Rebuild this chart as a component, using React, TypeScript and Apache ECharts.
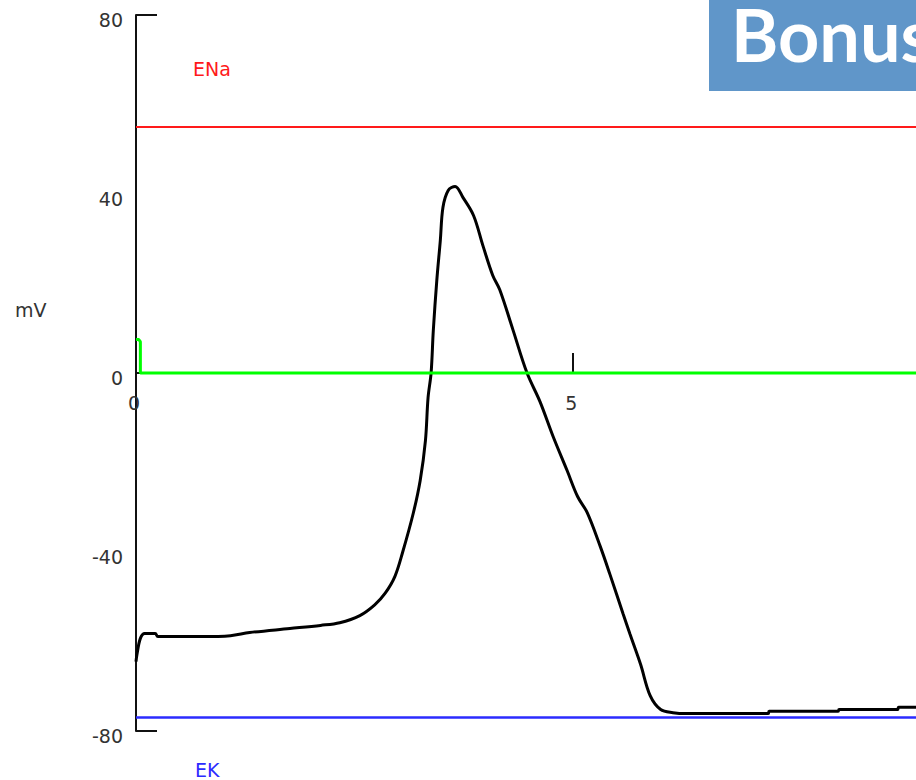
import React, { useEffect, useRef } from "react";
import * as echarts from "echarts";

const X_MAX = 8.92;
const Y_MIN = -80;
const Y_MAX = 80;
const Y_INTERVAL = 40;
const X_INTERVAL = 5;

const E_NA = 55;
const E_K = -77;

// membrane potential trace (time in ms, voltage in mV)
const vmTime = [
  0, 0.01, 0.05, 0.1, 0.22, 0.25, 0.76, 1.08, 1.3, 1.76, 2.11, 2.33, 2.56, 2.73,
  2.85, 2.96, 3.05, 3.17, 3.25, 3.31, 3.34, 3.375, 3.4, 3.44, 3.48, 3.51,
  3.57, 3.65, 3.74, 3.86, 3.97, 4.08, 4.16, 4.31, 4.47, 4.62, 4.77, 4.93, 5.05,
  5.16, 5.31, 5.42, 5.57, 5.65, 5.77, 5.88, 6.0, 6.14, 6.3, 7.23, 7.24, 8.03,
  8.04, 8.71, 8.72, 8.92,
];
const vmValues = [
  -64.5, -63, -59.3, -58.2, -58.2, -58.9, -58.9, -58.7, -58.0, -57.1, -56.4,
  -55.8, -54.2, -51.8, -49.2, -45.5, -40.0, -31.4, -24.0, -15.1, -5.5,
  0.1, 9.5, 20.7, 29.6, 37.0, 40.8, 41.7, 39.2, 35.2, 28.3, 21.8, 18.6, 9.7,
  0.1, -6.4, -14.2, -21.8, -27.6, -31.2, -38.8, -45.0, -53.8, -58.4, -65.1,
  -72.1, -75.2, -75.9, -76.1, -76.1, -75.6, -75.6, -75.2, -75.2, -74.7, -74.7,
];

// stimulus trace
const stimTime = [0, 0.03, 0.05, 0.05, 8.92];
const stimValues = [7.5, 7.5, 7.0, 0, 0];

const yTickValues = [-80, 80];
const xTickValues = [5];
const xLabelValues = [0, 5];

const zip = (a: number[], b: number[]) => a.map((v, i) => [v, b[i]]);

export default function App() {
  const ref = useRef<HTMLDivElement>(null);
  useEffect(() => {
    if (!ref.current) return;
    const chart = echarts.init(ref.current, undefined, { renderer: "svg" });
    const font = "DejaVu Sans";
    const gridTop = 15;
    const gridBottom = 49;
    const plotH = 780 - gridTop - gridBottom;
    const zeroOffset = -plotH * ((0 - Y_MIN) / (Y_MAX - Y_MIN));
    chart.setOption({
      animation: false,
      backgroundColor: "#ffffff",
      grid: { left: 136, top: gridTop, bottom: gridBottom, right: 0 },
      xAxis: {
        type: "value",
        min: 0,
        max: X_MAX,
        interval: X_INTERVAL,
        position: "bottom",
        offset: zeroOffset,
        axisLine: { onZero: false, lineStyle: { color: "#111", width: 2 } },
        axisTick: {
          show: true,
          inside: true,
          length: 20,
          customValues: xTickValues,
          lineStyle: { color: "#111", width: 2 },
        },
        axisLabel: {
          margin: 20,
          fontSize: 19,
          fontFamily: font,
          color: "#333",
          customValues: xLabelValues,
          padding: [0, 4, 0, 0],
        },
        splitLine: { show: false },
      },
      yAxis: {
        type: "value",
        min: Y_MIN,
        max: Y_MAX,
        interval: Y_INTERVAL,
        axisLine: { show: true, onZero: false, lineStyle: { color: "#111", width: 2 } },
        axisTick: {
          show: true,
          inside: true,
          length: 21,
          customValues: yTickValues,
          lineStyle: { color: "#111", width: 2 },
        },
        axisLabel: {
          margin: 13,
          fontSize: 19,
          fontFamily: font,
          color: "#333",
          verticalAlign: "top",
          lineHeight: 10,
        },
        splitLine: { show: false },
      },
      series: [
        {
          name: "ENa",
          type: "line",
          data: [
            [0, E_NA],
            [X_MAX, E_NA],
          ],
          symbol: "none",
          lineStyle: { color: "#ff1a1a", width: 2 },
        },
        {
          name: "EK",
          type: "line",
          data: [
            [0, E_K],
            [X_MAX, E_K],
          ],
          symbol: "none",
          lineStyle: { color: "#2b2bff", width: 2.5 },
        },
        {
          name: "Vm",
          type: "line",
          data: zip(vmTime, vmValues),
          symbol: "none",
          smooth: 0.35,
          lineStyle: { color: "#000", width: 3 },
        },
        {
          name: "Stim",
          type: "line",
          data: zip(stimTime, stimValues),
          symbol: "none",
          lineStyle: { color: "#00ff00", width: 3 },
        },
      ],
      graphic: [
        {
          type: "text",
          left: 15,
          top: 300,
          style: { text: "mV", fontSize: 19, fontFamily: font, fill: "#333" },
        },
        {
          type: "text",
          left: 193,
          top: 59,
          style: { text: "ENa", fontSize: 19, fontFamily: font, fill: "#ff1a1a" },
        },
        {
          type: "text",
          left: 195,
          top: 760,
          style: { text: "EK", fontSize: 19, fontFamily: font, fill: "#2b2bff" },
        },
        {
          type: "rect",
          shape: { x: 709, y: 0, width: 220, height: 91 },
          style: { fill: "#6096c9" },
          z: 10,
        },
        {
          type: "text",
          x: 731,
          y: 34,
          z: 11,
          style: {
            text: "Bonus",
            fontSize: 72,
            fontWeight: "bold",
            fontFamily: "Lato",
            fill: "#ffffff",
            verticalAlign: "middle",
            align: "left",
          },
        },
      ],
    });
    return () => chart.dispose();
  }, []);
  return (
    <div
      ref={ref}
      style={{ position: "fixed", left: 0, top: 0, width: 916, height: 780, overflow: "hidden" }}
    />
  );
}
